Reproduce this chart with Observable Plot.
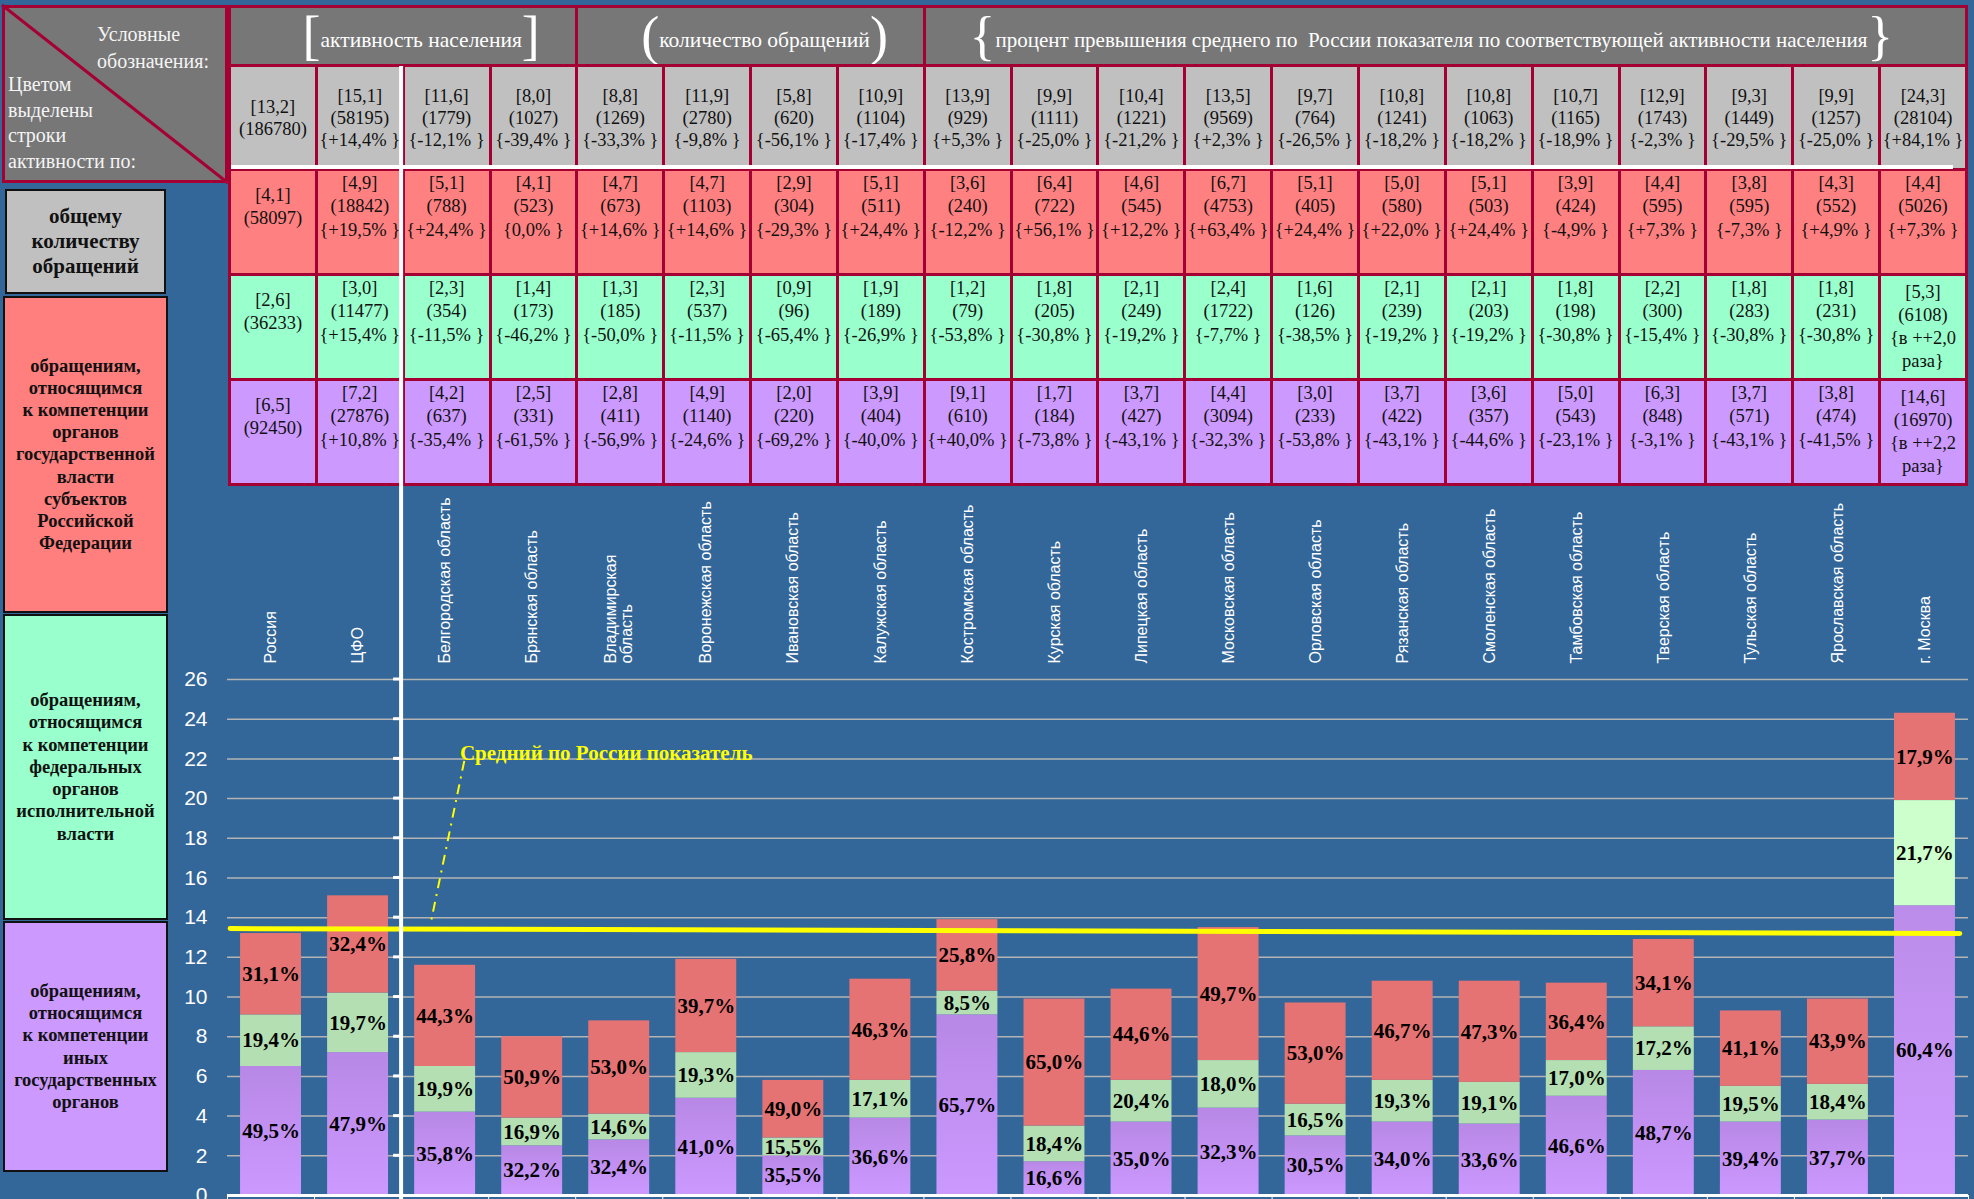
<!DOCTYPE html>
<html lang="ru">
<head>
<meta charset="utf-8">
<script src="https://cdn.jsdelivr.net/npm/d3@7"></script>
<script src="https://cdn.jsdelivr.net/npm/@observablehq/plot@0.6"></script>
<style>
html, body { margin:0; padding:0; background:#336699; overflow:hidden; }
#page { position:relative; width:1974px; height:1199px; overflow:hidden; background:#336699; }
.box { position:absolute; box-sizing:border-box; display:flex; align-items:center; justify-content:center; text-align:center;
  font-family:"Liberation Serif","Times New Roman",serif; font-weight:bold; color:#111; border:2px solid #111; }
#corner { position:absolute; left:2px; top:5px; width:226px; height:178px; background:#777777; box-sizing:border-box;
  border:3px solid #A50034; font-family:"Liberation Serif","Times New Roman",serif; color:#F4F4F4; font-size:20px; }
#corner svg { position:absolute; left:-3px; top:-3px; overflow:visible; }
#tbl { position:absolute; left:228px; top:5px; width:1740px; height:478px; border-collapse:collapse; table-layout:fixed;
  font-family:"Liberation Serif","Times New Roman",serif; }
#tbl td { border:3px solid #A50034; text-align:center; vertical-align:middle; padding:0; font-size:18.5px; line-height:22px; color:#111; overflow:hidden; }
#tbl td.h { background:#777777; color:#FFFFFF; font-size:21.5px; white-space:nowrap; }
#tbl td.h0 { padding-left:36px; }
#tbl td.h1 { padding-left:28px; }
#tbl td.h2 { padding-right:28px; font-size:21px; }
#tbl td.r, #tbl td.gr, #tbl td.p { line-height:23.5px; padding-bottom:30px; }
#tbl td.four { padding-bottom:0; line-height:23px; }
#tbl .br { font-size:54px; line-height:40px; vertical-align:-7px; }
.g { background:#C0C0C0; } .r { background:#FF8080; } .gr { background:#99FFCC; } .p { background:#CC99FF; }
#wline { position:absolute; left:231px; top:165px; width:1722px; height:4px; background:#FFFFFF; }
#chart { position:absolute; left:0; top:0; pointer-events:none; }
</style>
</head>
<body>
<div id="page">
  <div id="corner">
    <svg width="226" height="178"><line x1="0" y1="0" x2="226" y2="178" stroke="#A50034" stroke-width="3"/></svg>
    <div style="position:absolute;left:92px;top:13px;line-height:27px;">Условные<br>обозначения:</div>
    <div style="position:absolute;left:3px;top:64px;line-height:25.5px;">Цветом<br>выделены<br>строки<br>активности по:</div>
  </div>
  <table id="tbl"></table>
  <div id="wline"></div>
  <div class="box" style="left:5px;top:189px;width:161px;height:105px;background:#C0C0C0;font-size:21px;line-height:25px;">общему<br>количеству<br>обращений</div>
  <div class="box" style="left:3px;top:296px;width:165px;height:317px;background:#FF7F7F;font-size:18.5px;line-height:22.2px;">обращениям,<br>относящимся<br>к компетенции<br>органов<br>государственной<br>власти<br>субъектов<br>Российской<br>Федерации</div>
  <div class="box" style="left:3px;top:614px;width:165px;height:306px;background:#99FFCC;font-size:18.5px;line-height:22.2px;">обращениям,<br>относящимся<br>к компетенции<br>федеральных<br>органов<br>исполнительной<br>власти</div>
  <div class="box" style="left:3px;top:921px;width:165px;height:251px;background:#CC99FF;font-size:18.5px;line-height:22.2px;">обращениям,<br>относящимся<br>к компетенции<br>иных<br>государственных<br>органов</div>
  <div id="chart"></div>
</div>
<script>
// ---------- DATA ----------
const categories = ["Россия", "ЦФО", "Белгородская область", "Брянская область", "Владимирская\nобласть",
  "Воронежская область", "Ивановская область", "Калужская область", "Костромская область", "Курская область",
  "Липецкая область", "Московская область", "Орловская область", "Рязанская область", "Смоленская область",
  "Тамбовская область", "Тверская область", "Тульская область", "Ярославская область", "г. Москва"];

const headers = ["активность населения", "количество обращений",
  "процент превышения среднего по&nbsp; России показателя по соответствующей активности населения"];
const headerBrackets = [["[", "]"], ["(", ")"], ["{", "}"]];
const headerSpans = [4, 4, 12];

// total
const totalAct   = [13.2, 15.1, 11.6, 8.0, 8.8, 11.9, 5.8, 10.9, 13.9, 9.9, 10.4, 13.5, 9.7, 10.8, 10.8, 10.7, 12.9, 9.3, 9.9, 24.3];
const totalCount = [186780, 58195, 1779, 1027, 1269, 2780, 620, 1104, 929, 1111, 1221, 9569, 764, 1241, 1063, 1165, 1743, 1449, 1257, 28104];
const totalPct   = [null, 14.4, -12.1, -39.4, -33.3, -9.8, -56.1, -17.4, 5.3, -25.0, -21.2, 2.3, -26.5, -18.2, -18.2, -18.9, -2.3, -29.5, -25.0, 84.1];
// subjects of the Russian Federation (red)
const subjAct   = [4.1, 4.9, 5.1, 4.1, 4.7, 4.7, 2.9, 5.1, 3.6, 6.4, 4.6, 6.7, 5.1, 5.0, 5.1, 3.9, 4.4, 3.8, 4.3, 4.4];
const subjCount = [58097, 18842, 788, 523, 673, 1103, 304, 511, 240, 722, 545, 4753, 405, 580, 503, 424, 595, 595, 552, 5026];
const subjPct   = [null, 19.5, 24.4, 0.0, 14.6, 14.6, -29.3, 24.4, -12.2, 56.1, 12.2, 63.4, 24.4, 22.0, 24.4, -4.9, 7.3, -7.3, 4.9, 7.3];
// federal executive bodies (green)
const fedAct   = [2.6, 3.0, 2.3, 1.4, 1.3, 2.3, 0.9, 1.9, 1.2, 1.8, 2.1, 2.4, 1.6, 2.1, 2.1, 1.8, 2.2, 1.8, 1.8, 5.3];
const fedCount = [36233, 11477, 354, 173, 185, 537, 96, 189, 79, 205, 249, 1722, 126, 239, 203, 198, 300, 283, 231, 6108];
const fedPct   = [null, 15.4, -11.5, -46.2, -50.0, -11.5, -65.4, -26.9, -53.8, -30.8, -19.2, -7.7, -38.5, -19.2, -19.2, -30.8, -15.4, -30.8, -30.8, "в ++2,0 раза"];
// other state bodies (purple)
const otherAct   = [6.5, 7.2, 4.2, 2.5, 2.8, 4.9, 2.0, 3.9, 9.1, 1.7, 3.7, 4.4, 3.0, 3.7, 3.6, 5.0, 6.3, 3.7, 3.8, 14.6];
const otherCount = [92450, 27876, 637, 331, 411, 1140, 220, 404, 610, 184, 427, 3094, 233, 422, 357, 543, 848, 571, 474, 16970];
const otherPct   = [null, 10.8, -35.4, -61.5, -56.9, -24.6, -69.2, -40.0, 40.0, -73.8, -43.1, -32.3, -53.8, -43.1, -44.6, -23.1, -3.1, -43.1, -41.5, "в ++2,2 раза"];

// shares shown inside the bars (%)
const otherShare = [49.5, 47.9, 35.8, 32.2, 32.4, 41.0, 35.5, 36.6, 65.7, 16.6, 35.0, 32.3, 30.5, 34.0, 33.6, 46.6, 48.7, 39.4, 37.7, 60.4];
const fedShare   = [19.4, 19.7, 19.9, 16.9, 14.6, 19.3, 15.5, 17.1, 8.5, 18.4, 20.4, 18.0, 16.5, 19.3, 19.1, 17.0, 17.2, 19.5, 18.4, 21.7];
const subjShare  = [31.1, 32.4, 44.3, 50.9, 53.0, 39.7, 49.0, 46.3, 25.8, 65.0, 44.6, 49.7, 53.0, 46.7, 47.3, 36.4, 34.1, 41.1, 43.9, 17.9];

const yTicks = [0, 2, 4, 6, 8, 10, 12, 14, 16, 18, 20, 22, 24, 26];
const meanX = [0.03, 19.9];          // mean line ends (column units)
const meanY = [13.45, 13.2];         // average for Russia
const meanLabel = "Средний по России показатель";
const meanLabelAt = {x: 2.67, y: 22.3};
const leader = {x1: 2.72, y1: 21.9, x2: 2.34, y2: 13.85};
const axisCross = 2;                 // value axis crosses between ЦФО and Белгородская

// ---------- TABLE ----------
const fmt1 = v => v.toFixed(1).replace(".", ",");
const fmtPct = p => typeof p === "string" ? `{${p.replace(" раза", "<br>раза")}}` : `{${p > 0 ? "+" : ""}${fmt1(p)}% }`;
const cell = (a, n, p) => `[${fmt1(a)}]<br>(${n})` + (p === null ? "" : `<br>${fmtPct(p)}`);

let html = "<colgroup>" + categories.map(() => "<col>").join("") + "</colgroup>";
html += `<tr style="height:59px">` + headers.map((h, k) =>
  `<td class="h h${k}" colspan="${headerSpans[k]}"><span class="br">${headerBrackets[k][0]}</span>${h}<span class="br">${headerBrackets[k][1]}</span></td>`).join("") + "</tr>";
const rows = [
  {cls: "g", h: 104, act: totalAct, cnt: totalCount, pct: totalPct},
  {cls: "r", h: 105, act: subjAct, cnt: subjCount, pct: subjPct},
  {cls: "gr", h: 105, act: fedAct, cnt: fedCount, pct: fedPct},
  {cls: "p", h: 105, act: otherAct, cnt: otherCount, pct: otherPct}
];
for (const r of rows) {
  html += `<tr style="height:${r.h}px">` + categories.map((c, i) =>
    `<td class="${r.cls}${typeof r.pct[i] === "string" ? " four" : ""}">${cell(r.act[i], r.cnt[i], r.pct[i])}</td>`).join("") + "</tr>";
}
document.getElementById("tbl").innerHTML = html;

// ---------- CHART ----------
const serif = "Liberation Serif, Times New Roman, serif";
const segs = [];
categories.forEach((c, i) => {
  let base = 0;
  for (const [series, act, share] of [["other", otherAct, otherShare], ["fed", fedAct, fedShare], ["subj", subjAct, subjShare]]) {
    segs.push({i, c, series, y1: base, y2: base + act[i], share: share[i]});
    base += act[i];
  }
});
const isMsk = d => d.c === "г. Москва";
const fillOf = d => d.series === "other" ? (isMsk(d) ? "url(#gPurpleM)" : "url(#gPurple)")
  : d.series === "fed" ? (isMsk(d) ? "#CCFFCC" : "#B3DFB3") : "#E57373";

const plot = Plot.plot({
  width: 1974, height: 1199,
  marginLeft: 227, marginRight: 6, marginTop: 679, marginBottom: 4,
  x: {domain: [0, categories.length], ticks: d3.range(0, categories.length + 1), tickFormat: () => "", tickSize: 6, label: null},
  y: {domain: [0, 26], ticks: yTicks, tickSize: 0, tickPadding: 20, label: null},
  color: {type: "identity"},
  style: {background: "transparent", overflow: "visible", color: "white", fontFamily: "Liberation Sans, Arial, sans-serif", fontSize: "21px"},
  marks: [
    Plot.ruleY(yTicks.filter(t => t > 0), {stroke: "#B4B4B4", strokeWidth: 1.5}),
    Plot.rect(segs, {x1: d => d.i + 0.15, x2: d => d.i + 0.85, y1: "y1", y2: "y2", fill: fillOf}),
    Plot.ruleY([0], {stroke: "white", strokeWidth: 3}),
    Plot.text(segs, {x: d => d.i + 0.5, y: d => (d.y1 + d.y2) / 2, text: d => fmt1(d.share) + "%",
      fontFamily: serif, fontWeight: "bold", fontSize: 21, fill: "black"}),
    Plot.text(categories, {x: (d, i) => i + 0.5, y: () => yTicks[yTicks.length - 1], text: d => d, dy: -16,
      rotate: -90, textAnchor: "start", lineAnchor: "middle", fontSize: 16, fill: "white"}),
    Plot.line(meanX.map((x, k) => ({x, y: meanY[k]})), {x: "x", y: "y", stroke: "#FFFF00", strokeWidth: 5}),
    Plot.link([leader], {x1: "x1", y1: "y1", x2: "x2", y2: "y2", stroke: "#FFFF00", strokeWidth: 2, strokeDasharray: "10,6,2,6"}),
    Plot.text([meanLabel], {x: () => meanLabelAt.x, y: () => meanLabelAt.y, text: d => d, textAnchor: "start",
      fill: "#FFFF00", fontFamily: serif, fontWeight: "bold", fontSize: 21})
  ]
});

const svgNode = plot.tagName.toLowerCase() === "svg" ? plot : plot.querySelector("svg");
const svg = d3.select(svgNode);
const defs = svg.insert("defs", ":first-child");
const grad = (id, c0, c1) => {
  const g = defs.append("linearGradient").attr("id", id).attr("x1", 0).attr("y1", 0).attr("x2", 0).attr("y2", 1);
  g.append("stop").attr("offset", "0%").attr("stop-color", c0);
  g.append("stop").attr("offset", "100%").attr("stop-color", c1);
};
grad("gPurple", "#B888E6", "#CC99FF");
grad("gPurpleM", "#BC8CEA", "#CE9CFF");

// value axis that crosses the category axis at column boundary 2 (extends through the table)
const sx = plot.scale("x"), sy = plot.scale("y");
const fx = d3.scaleLinear(sx.domain, sx.range), fy = d3.scaleLinear(sy.domain, sy.range);
const ax = svg.append("g");
const xc = fx(axisCross);
ax.append("line").attr("x1", xc).attr("x2", xc).attr("y1", 66).attr("y2", 1199).attr("stroke", "white").attr("stroke-width", 4);
ax.selectAll("line.t").data(yTicks.filter(t => t > 0)).join("line").attr("class", "t")
  .attr("x1", xc - 8).attr("x2", xc).attr("y1", d => fy(d)).attr("y2", d => fy(d)).attr("stroke", "white").attr("stroke-width", 3);

document.getElementById("chart").appendChild(plot);
</script>
</body>
</html>
